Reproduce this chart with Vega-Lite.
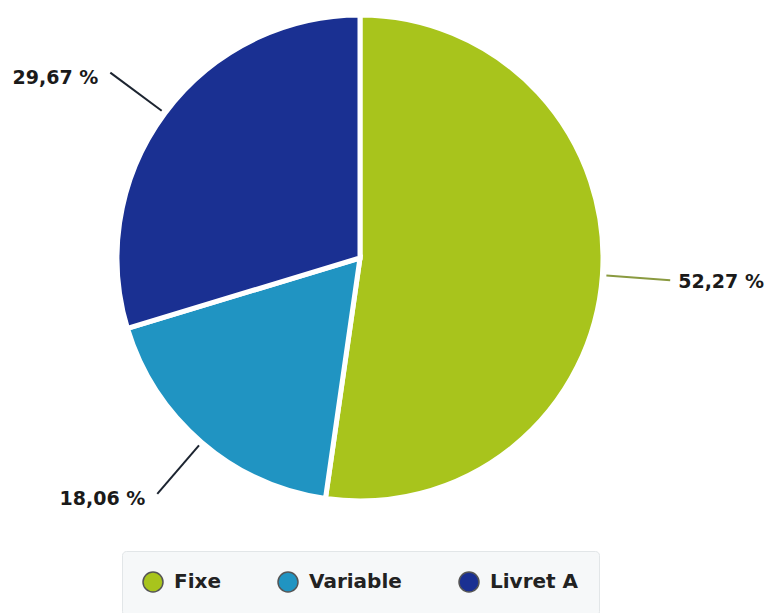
{
  "$schema": "https://vega.github.io/schema/vega-lite/v6.json",
  "width": 720,
  "height": 516,
  "padding": {"left": 0, "top": 0, "right": 48, "bottom": 0},
  "background": "white",
  "config": {"view": {"stroke": null}},
  "data": {"values": [
    {"cat": "Fixe", "value": 52.27, "label": "52,27 %"},
    {"cat": "Variable", "value": 18.06, "label": "18,06 %"},
    {"cat": "Livret A", "value": 29.67, "label": "29,67 %"}
  ]},
  "transform": [
    {"window": [{"op": "row_number", "as": "idx"}, {"op": "sum", "field": "value", "as": "cum"}]},
    {"joinaggregate": [{"op": "sum", "field": "value", "as": "total"}]},
    {"calculate": "(datum.cum - datum.value / 2) / datum.total * 2 * PI", "as": "mid"},
    {"calculate": "sin(datum.mid) * 247", "as": "x1"},
    {"calculate": "cos(datum.mid) * 247", "as": "y1"},
    {"calculate": "sin(datum.mid) * 311", "as": "x2"},
    {"calculate": "cos(datum.mid) * 311", "as": "y2"}
  ],
  "layer": [
    {
      "mark": {"type": "arc", "radius": 243, "stroke": "white", "strokeWidth": 5},
      "encoding": {
        "theta": {"field": "value", "type": "quantitative", "stack": true},
        "order": {"field": "idx", "type": "quantitative"},
        "color": {
          "field": "cat", "type": "nominal",
          "scale": {"domain": ["Fixe", "Variable", "Livret A"], "range": ["#a8c41c", "#2094c2", "#1a3092"]},
          "legend": {
            "title": null, "orient": "none", "legendX": 122, "legendY": 551, "direction": "horizontal",
            "symbolType": "circle", "symbolSize": 400, "symbolStrokeWidth": 1.5, "symbolStrokeColor": "#555",
            "labelFont": "DejaVu Sans", "labelFontSize": 20, "labelFontWeight": "bold", "labelColor": "#222",
            "columnPadding": 54, "labelOffset": 10,
            "fillColor": "#f6f8f9", "strokeColor": "#e2e6e8", "padding": 20, "cornerRadius": 4
          }
        }
      }
    },
    {
      "mark": {"type": "rule", "strokeWidth": 2},
      "encoding": {
        "x": {"field": "x1", "type": "quantitative", "scale": {"domain": [-360, 360]}, "axis": null},
        "y": {"field": "y1", "type": "quantitative", "scale": {"domain": [-258, 258]}, "axis": null},
        "x2": {"field": "x2"},
        "y2": {"field": "y2"},
        "color": {"condition": {"test": "datum.cat === 'Fixe'", "value": "#8a9a40"}, "value": "#1c2430"}
      }
    },
    {
      "transform": [{"filter": "datum.cat === 'Fixe'"}],
      "mark": {"type": "text", "align": "left", "baseline": "middle", "dx": 8, "dy": 2, "font": "DejaVu Sans", "fontSize": 19, "fontWeight": "bold", "color": "#1a1a1a"},
      "encoding": {
        "x": {"field": "x2", "type": "quantitative", "scale": {"domain": [-360, 360]}, "axis": null},
        "y": {"field": "y2", "type": "quantitative", "scale": {"domain": [-258, 258]}, "axis": null},
        "text": {"field": "label"}
      }
    },
    {
      "transform": [{"filter": "datum.cat !== 'Fixe'"}],
      "mark": {"type": "text", "align": "right", "baseline": "middle", "dx": -12, "dy": 5, "font": "DejaVu Sans", "fontSize": 19, "fontWeight": "bold", "color": "#1a1a1a"},
      "encoding": {
        "x": {"field": "x2", "type": "quantitative", "scale": {"domain": [-360, 360]}, "axis": null},
        "y": {"field": "y2", "type": "quantitative", "scale": {"domain": [-258, 258]}, "axis": null},
        "text": {"field": "label"}
      }
    }
  ]
}
